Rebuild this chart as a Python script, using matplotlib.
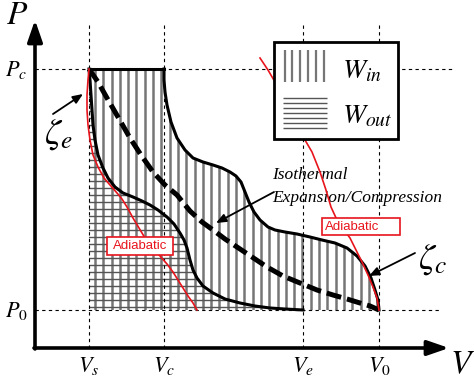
import numpy as np
import matplotlib
matplotlib.use('Agg')
import matplotlib.pyplot as plt
import matplotlib.patches as patches

plt.rcParams['mathtext.fontset'] = 'stix'

# schematic P-V diagram, coordinates in picture units (y grows downward)
v_ticks = [89, 164, 303, 379]
v_labels = [r'$V_s$', r'$V_c$', r'$V_e$', r'$V_{\mathit{0}}$']
p_ticks = [69, 310]
p_labels = [r'$P_c$', r'$P_{\mathit{0}}$']

# outer boundary (upper curve, Vc -> V0)
outer_v = [164, 164, 165, 167, 171, 177, 185, 193, 203, 213, 222, 230, 236, 241, 245, 249,
           254, 260, 268, 275, 285, 297, 310, 322, 335, 347, 357, 365, 371, 375, 378, 379]
outer_p = [69, 80, 92, 105, 122, 138, 150, 158, 162, 165, 168, 172, 176, 182, 192, 202,
           212, 220, 227, 230, 232, 234, 237, 240, 243, 248, 256, 266, 278, 290, 300, 310]

# inner boundary (zeta_e curve, Vs -> Ve)
inner_v = [89, 90, 91, 92, 93, 95, 98, 103, 108, 115, 123, 133, 142, 150, 158, 167, 174,
           180, 184, 187, 190, 193, 197, 203, 213, 225, 240, 255, 270, 285, 303]
inner_p = [69, 80, 95, 110, 125, 140, 155, 168, 178, 187, 193, 197, 201, 205, 210, 217, 224,
           233, 240, 248, 260, 270, 278, 286, 293, 299, 303, 306, 308, 309, 310]

# adiabatic curves
adia1_v = [89, 88, 87, 87, 88, 90, 93, 98, 104, 110, 117, 122, 127, 133, 139, 145, 152,
           160, 167, 173, 178, 183, 188, 193, 197]
adia1_p = [69, 80, 95, 110, 125, 140, 155, 167, 178, 185, 193, 199, 207, 218, 228, 238, 247,
           256, 264, 272, 280, 288, 296, 303, 310]
adia2_v = [260, 268, 275, 285, 295, 305, 312, 320, 326, 331, 337, 344, 350, 356, 362, 368,
           373, 377, 379]
adia2_p = [58, 70, 82, 100, 120, 140, 152, 172, 190, 207, 220, 230, 238, 250, 262, 275,
           287, 298, 310]

# isothermal (dashed)
iso_v = [89, 98, 107, 118, 130, 141, 153, 165, 177, 190, 202, 213, 225, 237, 252, 267,
         283, 300, 317, 333, 347, 360, 370, 379]
iso_p = [69, 82, 98, 117, 138, 155, 172, 185, 195, 211, 222, 230, 239, 247, 257, 267,
         276, 283, 290, 295, 299, 303, 306, 310]

fig = plt.figure(figsize=(4.74, 3.81), dpi=100)
ax = fig.add_axes([0, 0, 1, 1])
ax.set_xlim(0, 474)
ax.set_ylim(381, 0)
ax.axis('off')

# hatched regions
win_poly = patches.Polygon(list(zip([v_ticks[0]] + outer_v + [v_ticks[0]],
                                    [p_ticks[0]] + outer_p + [p_ticks[1]])),
                           closed=True, facecolor='none', edgecolor='none')
ax.add_patch(win_poly)
wout_poly = patches.Polygon(list(zip(inner_v + [v_ticks[0]], inner_p + [p_ticks[1]])),
                            closed=True, facecolor='none', edgecolor='none')
ax.add_patch(wout_poly)

vx = np.arange(v_ticks[0] + 6, v_ticks[3], 8.3)
vl = ax.vlines(vx, 0, 381, color='#767676', lw=1.8, zorder=1)
vl.set_clip_path(win_poly)
hy = np.arange(p_ticks[1] - 3.5, p_ticks[0], -7)
hl = ax.hlines(hy, 0, 474, color='#555555', lw=1.0, zorder=1)
hl.set_clip_path(wout_poly)

# reference dashed lines
for x in v_ticks:
    ax.plot([x, x], [25, 348], color='k', lw=0.8, ls=(0, (3, 3)), zorder=2)
ax.plot([35, 455], [p_ticks[0]] * 2, color='k', lw=0.8, ls=(0, (3, 3)), zorder=2)
ax.plot([35, 440], [p_ticks[1]] * 2, color='k', lw=0.8, ls=(0, (3, 3)), zorder=2)

# curves
ax.plot([v_ticks[0], v_ticks[1]], [p_ticks[0]] * 2, color='k', lw=2.2, zorder=4)
ax.plot(outer_v, outer_p, color='k', lw=2.2, zorder=4)
ax.plot(inner_v, inner_p, color='k', lw=2.2, zorder=4)
ax.plot(adia1_v, adia1_p, color='#e8141c', lw=1.2, zorder=5)
ax.plot(adia2_v, adia2_p, color='#e8141c', lw=1.2, zorder=5)
ax.plot(iso_v, iso_p, color='k', lw=3.6, ls=(0, (3, 1.2)), zorder=4)

# axes with arrows
ax.annotate('', xy=(35, 20), xytext=(35, 349),
            arrowprops=dict(arrowstyle='-|>,head_length=1.3,head_width=0.45',
                            lw=2.6, color='k', shrinkA=0, shrinkB=0), zorder=6)
ax.annotate('', xy=(449, 348), xytext=(34, 348),
            arrowprops=dict(arrowstyle='-|>,head_length=1.3,head_width=0.45',
                            lw=2.6, color='k', shrinkA=0, shrinkB=0), zorder=6)
ax.text(17, 15, r'$P$', fontsize=24, ha='center', va='center')
ax.text(462, 364, r'$V$', fontsize=24, ha='center', va='center')

for x, lab in zip(v_ticks, v_labels):
    ax.text(x, 366, lab, fontsize=16, ha='center', va='center')
for y, lab in zip(p_ticks, p_labels):
    ax.text(16, y + 1, lab, fontsize=16, ha='center', va='center')

# legend box
ax.add_patch(patches.Rectangle((274, 42), 124, 97, facecolor='white', edgecolor='k',
                               lw=2.0, zorder=7))
ax.vlines([285, 292.5, 300, 308, 316, 324], 50, 82, color='#767676', lw=1.6, zorder=8)
ax.hlines([98, 103, 108, 113, 118, 123, 128], 283, 327, color='#555555', lw=1.0, zorder=8)
ax.text(342, 70, r'$W_{in}$', fontsize=20, ha='left', va='center', zorder=8)
ax.text(342, 115, r'$W_{out}$', fontsize=20, ha='left', va='center', zorder=8)

# annotations
ax.text(58, 135, r'$\zeta_e$', fontsize=26, ha='center', va='center')
ax.annotate('', xy=(83, 94), xytext=(53, 114),
            arrowprops=dict(arrowstyle='-|>,head_length=0.6,head_width=0.25',
                            lw=1.3, color='k', shrinkA=0, shrinkB=0))
ax.text(433, 260, r'$\zeta_c$', fontsize=26, ha='center', va='center')
ax.annotate('', xy=(369, 276), xytext=(415, 253),
            arrowprops=dict(arrowstyle='-|>,head_length=0.6,head_width=0.25',
                            lw=1.3, color='k', shrinkA=0, shrinkB=0))
ax.text(272, 175, 'Isothermal', fontsize=12.5, style='italic',
        family='Liberation Serif', ha='left', va='center')
ax.text(272, 198, 'Expansion/Compression', fontsize=12.5, style='italic',
        family='Liberation Serif', ha='left', va='center')
ax.annotate('', xy=(216, 223), xytext=(274, 192),
            arrowprops=dict(arrowstyle='-|>,head_length=0.6,head_width=0.25',
                            lw=1.3, color='k', shrinkA=0, shrinkB=0))

# adiabatic labels
ax.add_patch(patches.Rectangle((107, 237), 66, 18, facecolor='white', edgecolor='#e8141c',
                               lw=1.2, zorder=7))
ax.text(140, 246, 'Adiabatic', fontsize=9.5, color='#e8141c', family='Liberation Sans',
        ha='center', va='center', zorder=8)
ax.add_patch(patches.Rectangle((322, 218), 78, 17, facecolor='white', edgecolor='#e8141c',
                               lw=1.2, zorder=7))
ax.text(325, 226.5, 'Adiabatic', fontsize=9.5, color='#e8141c', family='Liberation Sans',
        ha='left', va='center', zorder=8)

fig.savefig('out.png', dpi=100)
